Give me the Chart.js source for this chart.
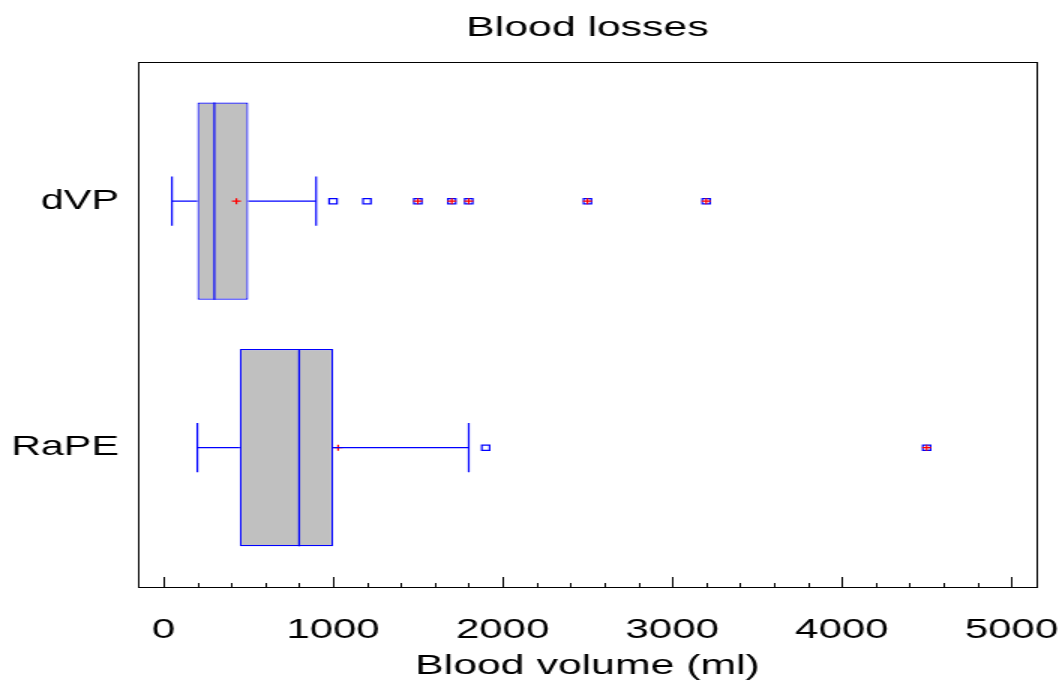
<!DOCTYPE html>
<html>
<head>
<meta charset="utf-8">
<script src="https://cdn.jsdelivr.net/npm/chart.js@4.4.1/dist/chart.umd.min.js"></script>
<style>
  html, body { margin: 0; padding: 0; background: #fff; overflow: hidden; }
  /* the reference picture is stretched sideways, so the canvas is too */
  #wrap { width: 709px; height: 685px; transform: scaleX(1.5); transform-origin: 0 0; }
</style>
</head>
<body>
<div id="wrap"><canvas id="boxChart" width="709" height="685"></canvas></div>
<script>
const categories = ['dVP', 'RaPE'];
const catPos = [1, 0];
const whiskerLow = [50, 200];
const q1 = [200, 450];
const median = [300, 800];
const q3 = [500, 1000];
const whiskerHigh = [900, 1800];
const means = [430, 1030];
const outsidePoints = [[1000, 1200], [1900]];
const farOutsidePoints = [[1500, 1700, 1800, 2500, 3200], [4500]];
const xTicks = [0, 1000, 2000, 3000, 4000, 5000];

const blue = '#0000ff';
const fontFamily = 'Liberation Sans';

// whiskers, caps and medians, one small line dataset each
const lineSets = [];
function seg(x1, y1, x2, y2) {
    lineSets.push({
        type: 'scatter',
        data: [{ x: x1, y: y1 }, { x: x2, y: y2 }],
        showLine: true,
        borderColor: blue,
        borderWidth: 1.2,
        pointRadius: 0,
        order: 0
    });
}
categories.forEach((c, i) => {
    const p = catPos[i];
    seg(whiskerLow[i], p, q1[i], p);
    seg(q3[i], p, whiskerHigh[i], p);
    seg(whiskerLow[i], p - 0.1, whiskerLow[i], p + 0.1);
    seg(whiskerHigh[i], p - 0.1, whiskerHigh[i], p + 0.1);
    seg(median[i], p - 0.4, median[i], p + 0.4);
});

const squares = [];
const pluses = [];
categories.forEach((c, i) => {
    outsidePoints[i].forEach(v => squares.push({ x: v, y: catPos[i] }));
    farOutsidePoints[i].forEach(v => {
        squares.push({ x: v, y: catPos[i] });
        pluses.push({ x: v, y: catPos[i] });
    });
    pluses.push({ x: means[i], y: catPos[i] });
});

const frameAndTicks = {
    id: 'frameAndTicks',
    afterDatasetsDraw(chart) {
        const { ctx, chartArea: a } = chart;
        const x = chart.scales.x;
        ctx.save();
        ctx.strokeStyle = '#000';
        ctx.lineWidth = 1;
        ctx.strokeRect(Math.round(a.left) + 0.5, Math.round(a.top) + 0.5,
            Math.round(a.right - a.left), Math.round(a.bottom - a.top));
        ctx.beginPath();
        for (let v = xTicks[0]; v <= xTicks[xTicks.length - 1]; v += 200) {
            const px = Math.round(x.getPixelForValue(v)) + 0.5;
            const len = xTicks.includes(v) ? 10 : 4;
            ctx.moveTo(px, Math.round(a.bottom));
            ctx.lineTo(px, Math.round(a.bottom) - len);
        }
        ctx.stroke();
        ctx.restore();
    }
};

const chart = new Chart(document.getElementById('boxChart'), {
    type: 'scatter',
    data: {
        datasets: [
            ...lineSets,
            {
                type: 'scatter',
                data: pluses,
                pointStyle: 'cross',
                pointRadius: 3,
                borderColor: '#ff0000',
                borderWidth: 1.2,
                order: 1
            },
            {
                type: 'scatter',
                data: squares,
                pointStyle: 'rect',
                pointRadius: 3.7,
                backgroundColor: '#ffffff',
                borderColor: blue,
                borderWidth: 1.2,
                order: 2
            },
            {
                type: 'bar',
                indexAxis: 'y',
                data: categories.map((c, i) => ({ y: catPos[i], x: [q1[i], q3[i]] })),
                backgroundColor: '#c0c0c0',
                borderColor: blue,
                borderWidth: 1.2,
                borderSkipped: false,
                barPercentage: 0.8,
                categoryPercentage: 1,
                order: 3
            }
        ]
    },
    options: {
        responsive: false,
        animation: false,
        layout: { padding: { left: 0, right: 17.7, top: 0, bottom: 0 } },
        scales: {
            x: {
                type: 'linear',
                position: 'bottom',
                offset: false,
                min: -150,
                max: 5150,
                afterBuildTicks: s => { s.ticks = xTicks.map(v => ({ value: v })); },
                afterFit: s => { s.height = 98; s.paddingLeft = 0; s.paddingRight = 0; },
                grid: { display: false, drawTicks: false, tickLength: 0, offset: false },
                border: { display: false },
                ticks: {
                    color: '#000',
                    font: { family: fontFamily, size: 28 },
                    padding: 26.3,
                    maxRotation: 0,
                    autoSkip: false,
                    callback: v => String(v)
                },
                title: {
                    display: true,
                    text: 'Blood volume (ml)',
                    color: '#000',
                    font: { family: fontFamily, size: 28.5 },
                    padding: { top: 2, bottom: 1.5 }
                }
            },
            y: {
                type: 'linear',
                position: 'left',
                offset: false,
                min: -0.565,
                max: 1.565,
                afterBuildTicks: s => { s.ticks = catPos.map(v => ({ value: v })); },
                afterFit: s => { s.width = 92; s.paddingTop = 0; s.paddingBottom = 0; },
                grid: { display: false, drawTicks: false, tickLength: 0, offset: false },
                border: { display: false },
                ticks: {
                    color: '#000',
                    font: { family: fontFamily, size: 27.5 },
                    padding: 12.7,
                    autoSkip: false,
                    callback: v => categories[catPos.indexOf(v)]
                }
            }
        },
        plugins: {
            legend: { display: false },
            tooltip: { enabled: false },
            title: {
                display: true,
                fullSize: false,
                text: 'Blood losses',
                color: '#000',
                font: { family: fontFamily, size: 28.5, weight: 'normal' },
                padding: { top: 11.2, bottom: 16.5 }
            }
        }
    },
    plugins: [frameAndTicks]
});
</script>
</body>
</html>
